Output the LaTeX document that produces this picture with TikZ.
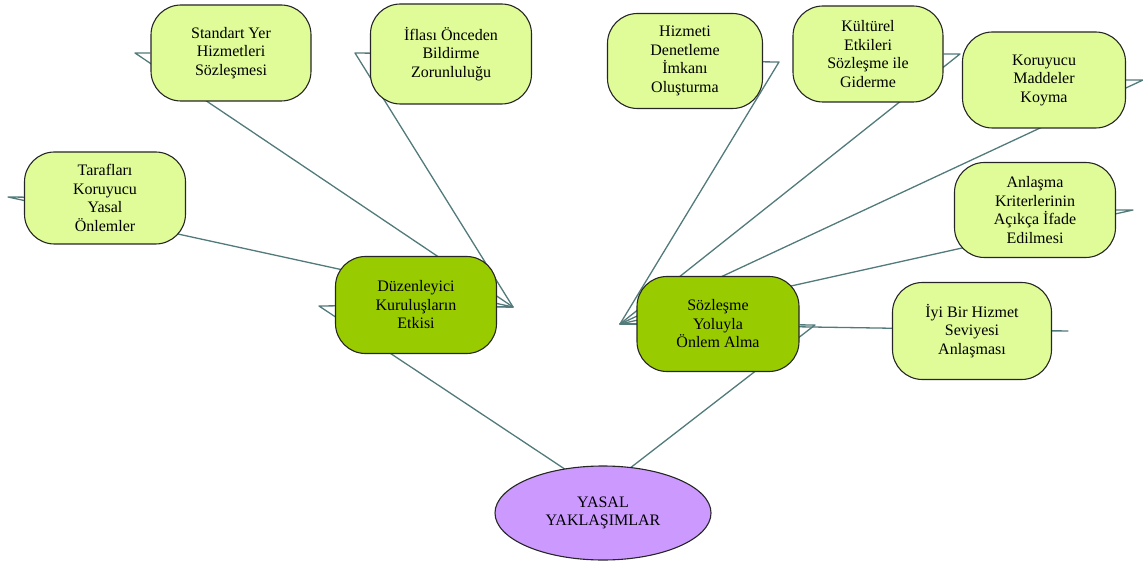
\documentclass[tikz,border=0pt]{standalone}
\usepackage{fontspec}
\setmainfont{Liberation Serif}
\usetikzlibrary{shapes.geometric,backgrounds}
\definecolor{leafgreen}{RGB}{224,252,152}
\definecolor{hubgreen}{RGB}{153,204,0}
\definecolor{rootpurple}{RGB}{204,153,255}
\definecolor{wire}{RGB}{82,122,122}
\begin{document}
\begin{tikzpicture}[x=1pt,y=-1pt,
    box/.style={draw=black!85, line width=1.1pt, rounded corners=30pt, inner sep=0pt, align=center,
      font=\fontsize{16}{18.5}\selectfont},
    leaf/.style 2 args={box, fill=leafgreen, minimum width=#1, minimum height=#2},
    hub/.style 2 args={box, fill=hubgreen, minimum width=#1, minimum height=#2},
    link/.style={draw=wire, line width=1.3pt, line join=round}]
\useasboundingbox (0,0) rectangle (1143,561);
% kok
\node[draw=black!85, line width=1.1pt, fill=rootpurple, ellipse, minimum width=216pt, minimum height=94pt,
  inner sep=0pt, align=center, font=\fontsize{16}{18.5}\selectfont] (yasal) at (603,513) {YASAL\\YAKLAŞIMLAR};
% iki ana dal
\node[hub={161pt}{97pt}] (duz) at (416,305) {Düzenleyici\\Kuruluşların\\Etkisi};
\node[hub={162pt}{95pt}] (soz) at (718,324) {Sözleşme\\Yoluyla\\Önlem Alma};
% sol yapraklar
\node[leaf={161pt}{92pt}] (taraf) at (105,198) {Tarafları\\Koruyucu\\Yasal\\Önlemler};
\node[leaf={160pt}{96pt}] (standart) at (231,53) {Standart Yer\\Hizmetleri\\Sözleşmesi};
\node[leaf={161pt}{100pt}] (iflas) at (451,54) {İflası Önceden\\Bildirme\\Zorunluluğu};
% sag yapraklar
\node[leaf={155pt}{95pt}] (denetim) at (685,61) {Hizmeti\\Denetleme\\İmkanı\\Oluşturma};
\node[leaf={150pt}{96pt}] (kultur) at (868,54) {Kültürel\\Etkileri\\Sözleşme ile\\Giderme};
\node[leaf={163pt}{96pt}] (madde) at (1044,80) {Koruyucu\\Maddeler\\Koyma};
\node[leaf={161pt}{95pt}] (kriter) at (1035,210) {Anlaşma\\Kriterlerinin\\Açıkça İfade\\Edilmesi};
\node[leaf={159pt}{97pt}] (seviye) at (972,331) {İyi Bir Hizmet\\Seviyesi\\Anlaşması};
% baglanti uclari
\coordinate (duzR) at (513,307);
\coordinate (duzL) at (319,306);
\coordinate (sozL) at (620,324);
\coordinate (sozR) at (815,325);
\coordinate (yasalL) at (631,513);
\coordinate (yasalR) at (572,513);
\coordinate (tarafS) at (8,197);
\coordinate (standartS) at (135,53);
\coordinate (iflasS) at (355,53);
\coordinate (denetimS) at (779,62);
\coordinate (kulturS) at (960,54);
\coordinate (maddeS) at (1143,80);
\coordinate (kriterS) at (1133,210);
\coordinate (seviyeS) at (1068,331);
\begin{scope}[on background layer]
  \draw[link] (duz) -- (duzL) -- (yasalL) -- (yasal.center);
  \draw[link] (soz) -- (sozR) -- (yasalR) -- (yasal.center);
  \draw[link] (taraf) -- (tarafS) -- (duzR) -- (duz);
  \draw[link] (standart) -- (standartS) -- (duzR) -- (duz);
  \draw[link] (iflas) -- (iflasS) -- (duzR) -- (duz);
  \draw[link] (denetim) -- (denetimS) -- (sozL) -- (soz);
  \draw[link] (kultur) -- (kulturS) -- (sozL) -- (soz);
  \draw[link] (madde) -- (maddeS) -- (sozL) -- (soz);
  \draw[link] (kriter) -- (kriterS) -- (sozL) -- (soz);
  \draw[link] (seviye) -- (seviyeS) -- (sozL) -- (soz);
\end{scope}
\end{tikzpicture}
\end{document}
